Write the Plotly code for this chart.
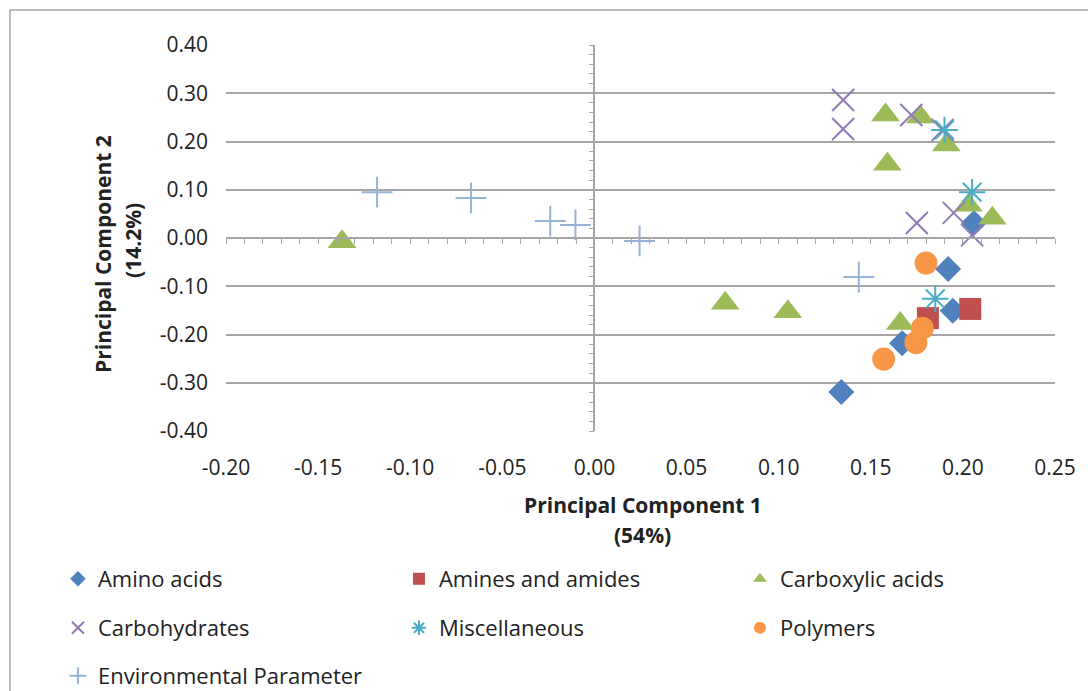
import plotly.graph_objects as go

# ---- data ----
amino_x = [0.206, 0.192, 0.1945, 0.167, 0.134]
amino_y = [0.031, -0.064, -0.151, -0.218, -0.319]

amines_x = [0.204, 0.181]
amines_y = [-0.147, -0.166]

carbox_x = [0.158, 0.177, 0.191, 0.159, 0.203, 0.216, -0.137, 0.071, 0.105, 0.166]
carbox_y = [0.255, 0.251, 0.193, 0.153, 0.068, 0.041, -0.008, -0.135, -0.153, -0.177]

carbo_x = [0.135, 0.135, 0.172, 0.189, 0.195, 0.175, 0.205]
carbo_y = [0.286, 0.226, 0.255, 0.224, 0.052, 0.031, 0.006]

misc_x = [0.190, 0.205, 0.185]
misc_y = [0.224, 0.095, -0.126]

poly_x = [0.180, 0.178, 0.1745, 0.157]
poly_y = [-0.052, -0.187, -0.217, -0.251]

env_x = [-0.118, -0.067, -0.024, -0.0103, 0.0245, 0.1435]
env_y = [0.095, 0.083, 0.035, 0.027, -0.006, -0.081]

x_ticks = [-0.20, -0.15, -0.10, -0.05, 0.00, 0.05, 0.10, 0.15, 0.20, 0.25]
y_ticks = [-0.40, -0.30, -0.20, -0.10, 0.00, 0.10, 0.20, 0.30, 0.40]

FONT = "Open Sans"
TXT = "#222222"
GRID = "#a6a6a6"

fig = go.Figure()

def add(name, xs, ys, symbol, color, size, legend, lw=0):
    fig.add_trace(go.Scatter(
        x=xs, y=ys, mode="markers", name=name, legend=legend,
        marker=dict(symbol=symbol, size=size, color=color,
                    line=dict(width=lw, color=color)),
    ))

add("Amino acids", amino_x, amino_y, "diamond", "#4F81BD", 20, "legend")
add("Amines and amides", amines_x, amines_y, "square", "#C0504D", 22, "legend")
add("Carboxylic acids", carbox_x, carbox_y, "triangle-up", "#9BBB59", 25, "legend")
add("Carbohydrates", carbo_x, carbo_y, "x-thin-open", "#8F7AB5", 22, "legend2", 2)
add("Miscellaneous", misc_x, misc_y, "asterisk-open", "#4BACC6", 22, "legend2", 2)
add("Polymers", poly_x, poly_y, "circle", "#F79646", 23, "legend2")
add("Environmental Parameter", env_x, env_y, "cross-thin-open", "#95B3D7", 22, "legend3", 2)

# empty trace so the crossing (zero) axes exist
fig.add_trace(go.Scatter(x=[], y=[], xaxis="x2", yaxis="y2", showlegend=False))

xr = [-0.20, 0.25]
yr = [-0.40, 0.40]

legend_common = dict(
    orientation="h", xanchor="left", yanchor="middle",
    font=dict(family=FONT, size=22, color=TXT),
    bgcolor="rgba(0,0,0,0)", entrywidth=296, entrywidthmode="pixels",
    itemsizing="constant",
)

LX = -0.2027

fig.update_layout(
    width=1088, height=691,
    margin=dict(l=226, r=33, t=45, b=260, autoexpand=False),
    paper_bgcolor="white", plot_bgcolor="white",
    font=dict(family=FONT, size=21, color=TXT),
    xaxis=dict(range=xr, tickvals=x_ticks, ticktext=[f"{v:.2f}" for v in x_ticks],
               showgrid=False, zeroline=False, showline=False, ticks="",
               ticklabelstandoff=22, tickfont=dict(family=FONT, size=21, color=TXT)),
    yaxis=dict(range=yr, tickvals=y_ticks, ticktext=[f"{v:.2f}" for v in y_ticks],
               showgrid=True, gridcolor=GRID, gridwidth=1.5, zeroline=False,
               showline=False, ticks="", ticklabelstandoff=17,
               tickfont=dict(family=FONT, size=21, color=TXT)),
    xaxis2=dict(range=xr, overlaying="x", anchor="free", position=0.5, side="bottom",
                showline=True, linecolor=GRID, linewidth=1.5, ticks="outside",
                ticklen=5, tickcolor=GRID, tickwidth=1.2, dtick=0.01, tick0=0,
                showticklabels=False, showgrid=False, zeroline=False),
    yaxis2=dict(range=yr, overlaying="y", anchor="free", position=0.2 / 0.45, side="left",
                showline=True, linecolor=GRID, linewidth=1.5, ticks="outside",
                ticklen=5, tickcolor=GRID, tickwidth=1.2, dtick=0.02, tick0=0,
                showticklabels=False, showgrid=False, zeroline=False),
    legend=dict(x=LX, y=-0.3834, **legend_common),
    legend2=dict(x=LX, y=-0.5104, **legend_common),
    legend3=dict(x=LX, y=-0.6347, **legend_common),
    showlegend=True,
)

# axis titles
title_font = dict(family=FONT, size=21, color=TXT)
ann = dict(xref="paper", yref="paper", showarrow=False, font=title_font,
           xanchor="center", yanchor="middle")
fig.add_annotation(text="<b>Principal Component 1</b>", x=0.503, y=-0.1917, **ann)
fig.add_annotation(text="<b>(54%)</b>", x=0.503, y=-0.2694, **ann)
fig.add_annotation(text="<b>Principal Component 2</b>", x=-0.1484, y=0.4585,
                   textangle=-90, **ann)
fig.add_annotation(text="<b>(14.2%)</b>", x=-0.1122, y=0.4948, textangle=-90, **ann)

# chart border (extends past the right/bottom of the picture)
fig.add_shape(type="rect", xref="paper", yref="paper",
              x0=-0.2606, y0=-0.8, x1=1.2, y1=1.0907,
              line=dict(color="#a6a6a6", width=1.5), layer="below")

fig.write_html("out.html",
               config={"displayModeBar": False},
               post_script="document.body.style.margin='0';document.body.style.padding='0';")
